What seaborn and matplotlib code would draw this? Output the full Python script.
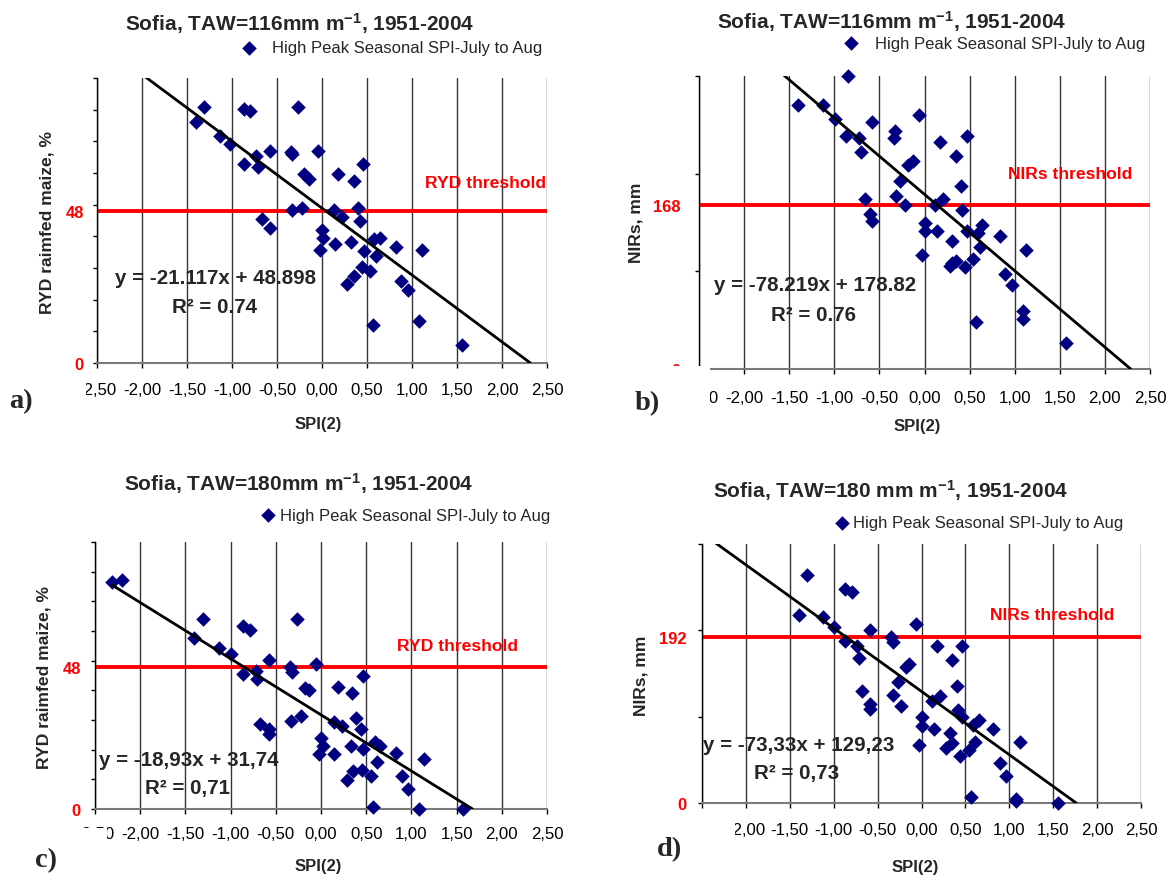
import matplotlib
matplotlib.use('Agg')
import matplotlib.pyplot as plt
import seaborn as sns
import numpy as np
from matplotlib.patches import Rectangle

# ---------------- data ----------------
legend_label = "High Peak Seasonal SPI-July to Aug"
x_tick_values = [-2.5, -2.0, -1.5, -1.0, -0.5, 0.0, 0.5, 1.0, 1.5, 2.0, 2.5]
x_tick_labels = ["-2,50", "-2,00", "-1,50", "-1,00", "-0,50", "0,00",
                 "0,50", "1,00", "1,50", "2,00", "2,50"]

a_x = [-1.40, -1.31, -1.13, -1.02, -0.87, -0.80, -0.87, -0.73, -0.71, -0.58, -0.67, -0.58,
       -0.34, -0.33, -0.27, -0.33, -0.22, -0.05, -0.20, -0.14, 0.00, 0.01, -0.02, 0.13,
       0.18, 0.22, 0.14, 0.35, 0.40, 0.42, 0.45, 0.32, 0.47, 0.28, 0.35, 0.44, 0.53, 0.58,
       0.64, 0.60, 0.82, 1.11, 0.88, 0.96, 0.57, 1.08, 1.56]
a_y = [76.0, 80.9, 71.6, 69.2, 80.1, 79.5, 63.0, 65.5, 62.0, 66.9, 45.6, 42.5,
       66.6, 66.0, 80.9, 48.4, 48.8, 66.9, 59.6, 58.0, 42.1, 39.6, 35.7, 48.4,
       59.6, 46.0, 37.7, 57.5, 48.8, 45.0, 63.0, 38.2, 35.3, 25.1, 27.6, 30.4, 28.9, 39.2,
       39.6, 33.9, 36.7, 35.7, 26.0, 23.2, 12.1, 13.4, 5.6]

b_x = [-1.40, -1.12, -0.99, -0.85, -0.87, -0.73, -0.70, -0.58, -0.66, -0.60, -0.58, -0.33,
       -0.34, -0.32, -0.27, -0.22, -0.18, -0.13, -0.06, 0.00, 0.00, -0.03, 0.12, 0.14,
       0.17, 0.21, 0.31, 0.35, 0.40, 0.42, 0.47, 0.47, 0.28, 0.31, 0.35, 0.45, 0.54, 0.59,
       0.64, 0.62, 0.84, 1.12, 0.89, 0.97, 0.57, 1.09, 1.09, 1.57]
b_y = [270.2, 270.2, 255.8, 299.5, 238.2, 236.5, 222.4, 252.7, 174.2, 158.7, 151.8, 243.4,
       236.8, 177.6, 192.1, 168.0, 208.6, 212.7, 259.6, 149.1, 140.8, 116.7, 168.0, 140.8,
       232.0, 174.2, 131.5, 217.9, 187.3, 163.2, 238.2, 140.8, 105.3, 108.8, 110.5, 104.0,
       112.2, 139.1, 147.3, 124.6, 136.0, 121.5, 97.4, 86.4, 47.8, 59.6, 50.9, 26.9]

c_x = [-2.31, -2.20, -1.31, -1.40, -1.13, -1.00, -0.86, -0.79, -0.86, -0.72, -0.71, -0.57,
       -0.67, -0.58, -0.58, -0.34, -0.32, -0.26, -0.33, -0.22, -0.05, -0.18, -0.13, 0.00,
       0.02, -0.02, 0.14, 0.23, 0.19, 0.14, 0.34, 0.39, 0.44, 0.47, 0.33, 0.47, 0.29, 0.35,
       0.45, 0.55, 0.60, 0.65, 0.62, 0.83, 1.14, 0.90, 0.96, 0.57, 1.08, 1.57]
c_y = [76.6, 77.1, 63.9, 57.5, 54.4, 52.3, 61.8, 60.2, 45.4, 46.5, 43.7, 50.1,
       28.6, 27.1, 25.2, 48.0, 46.3, 63.9, 29.5, 31.2, 49.0, 40.7, 40.2, 23.8,
       21.2, 18.6, 29.4, 28.0, 41.2, 18.6, 39.0, 30.6, 26.9, 44.8, 21.2, 20.1, 9.9, 12.8,
       13.0, 11.1, 22.7, 21.2, 15.8, 19.0, 16.9, 11.1, 6.9, 0.6, 0.0, 0.0]

d_x = [-1.40, -1.30, -1.12, -1.00, -0.87, -0.79, -0.87, -0.74, -0.71, -0.59, -0.68, -0.59,
       -0.59, -0.35, -0.33, -0.32, -0.27, -0.23, -0.18, -0.14, -0.06, 0.00, 0.00, -0.03,
       0.12, 0.14, 0.18, 0.21, 0.32, 0.35, 0.40, 0.42, 0.46, 0.46, 0.28, 0.35, 0.44, 0.54,
       0.61, 0.59, 0.65, 0.82, 1.12, 0.89, 0.96, 0.56, 1.08, 1.08, 1.55]
d_y = [218.1, 264.1, 215.4, 204.3, 248.0, 244.5, 187.8, 181.3, 167.5, 200.5, 129.9, 114.2,
       109.2, 192.4, 186.3, 125.3, 140.7, 112.7, 157.1, 160.6, 207.7, 99.3, 89.7, 67.1,
       118.1, 86.2, 181.3, 123.4, 80.9, 165.2, 135.7, 107.7, 181.3, 99.7, 63.2, 69.4, 54.4,
       61.3, 70.9, 90.8, 96.6, 86.2, 70.9, 46.0, 31.8, 6.9, 5.0, 1.9, 0.0]

titles = [r"Sofia, TAW=116mm m$^{-1}$, 1951-2004",
          r"Sofia, TAW=116mm m$^{-1}$, 1951-2004",
          r"Sofia, TAW=180mm m$^{-1}$, 1951-2004",
          r"Sofia, TAW=180 mm m$^{-1}$, 1951-2004"]
y_labels = ["RYD raimfed maize, %", "NIRs, mm", "RYD raimfed maize, %", "NIRs, mm"]
thresholds = [48, 168, 48, 192]
threshold_labels = ["RYD threshold", "NIRs threshold", "RYD threshold", "NIRs threshold"]
y_max = [90, 300, 90, 300]
y_minor_step = [10, 100, 10, 100]
slopes = [-21.117, -78.219, -18.93, -73.33]
intercepts = [48.898, 178.82, 31.74, 129.23]
trend_x_start = [-2.5, -2.5, -2.31, -2.5]
equations = ["y = -21.117x + 48.898", "y = -78.219x + 178.82",
             "y = -18,93x + 31,74", "y = -73,33x + 129,23"]
r2_texts = ["R² = 0.74", "R² = 0.76", "R² = 0,71", "R² = 0,73"]
panel_tags = ["a)", "b)", "c)", "d)"]
xs_all = [a_x, b_x, c_x, d_x]
ys_all = [a_y, b_y, c_y, d_y]

# ---------------- layout (pixel coordinates of the 1168x878 canvas) ----------------
sns.set_theme(style='white')
plt.rcParams['font.family'] = ['Liberation Sans', 'DejaVu Sans']
plt.rcParams['mathtext.fontset'] = 'custom'
plt.rcParams['mathtext.rm'] = 'Liberation Sans'
plt.rcParams['mathtext.bf'] = 'Liberation Sans:bold'
plt.rcParams['mathtext.default'] = 'bf'

W, H = 1168, 878
fig = plt.figure(figsize=(W / 100, H / 100), dpi=100)
fig.patch.set_facecolor('white')


def fx(x):
    return x / W


def fy(y):
    return 1 - y / H


layout = [
    dict(box=(97, 79, 547, 364), xpad=10.0, ypad=6.5,
         title=(300, 31), leg=(243, 53, 1.0), thr=(425, 188), eq=(115, 284), r2=(172, 313),
         tag=(9, 408), xl=(318, 429), yl=(47, 222), cover=(60, 378, 86, 402)),
    dict(box=(699, 77, 1150, 370), xpad=11.5, ypad=10.0,
         title=(892, 29), leg=(845, 48, 1.07), thr=(1008, 179), eq=(714, 291), r2=(771, 321),
         tag=(635, 410), xl=(917, 431), yl=(636, 223), cover=(665, 367, 710, 412)),
    dict(box=(95, 543, 547, 810), xpad=9.0, ypad=7.2,
         title=(299, 491), leg=(262, 520, 0.33), thr=(397, 651), eq=(99, 766), r2=(145, 794),
         tag=(35, 867), xl=(318, 871), yl=(44, 678), cover=(60, 829, 107, 846)),
    dict(box=(702, 545, 1141, 804), xpad=10.3, ypad=8.0,
         title=(891, 498), leg=(836, 528, 0.28), thr=(990, 620), eq=(703, 751), r2=(754, 779),
         tag=(657, 856), xl=(915, 872), yl=(641, 676), cover=(672, 815, 735, 842)),
]

for i in range(4):
    L = layout[i]
    x0, y0, x1, y1 = L['box']
    ax = fig.add_axes([fx(x0), fy(y1), (x1 - x0) / W, (y1 - y0) / H])
    ax.set_facecolor('white')
    ax.set_xlim(-2.5, 2.5)
    ax.set_ylim(0, y_max[i])

    ax.set_xticks(x_tick_values)
    ax.set_xticklabels(x_tick_labels)
    ax.grid(axis='x', which='major', color='#333333', lw=1.0)
    ax.grid(axis='y', visible=False)
    ax.set_axisbelow(True)
    for s in ['top', 'right']:
        ax.spines[s].set_visible(False)
    ax.spines['left'].set_color('black')
    ax.spines['left'].set_linewidth(1.0)
    ax.spines['bottom'].set_color('#7a7a7a')
    ax.spines['bottom'].set_linewidth(1.5)
    ax.tick_params(axis='x', which='major', bottom=True, direction='out', length=3.5,
                   width=1.0, color='black', labelsize=12.1, labelcolor='black', pad=L['xpad'])

    ax.set_yticks([0, thresholds[i]])
    ax.set_yticklabels(['0', str(thresholds[i])])
    ax.set_yticks(np.arange(y_minor_step[i], y_max[i] + 1, y_minor_step[i]), minor=True)
    ax.tick_params(axis='y', which='both', left=True, direction='out', length=3,
                   width=1.0, color='black', pad=L['ypad'])
    ax.tick_params(axis='y', which='major', labelsize=11.9, labelcolor='#FF0000')
    for lbl in ax.get_yticklabels():
        lbl.set_fontweight('bold')
    ax.yaxis.get_major_ticks()[1].tick1line.set_visible(False)

    ax.axhline(thresholds[i], color='#FF0000', lw=2.8, zorder=2)

    sns.scatterplot(x=xs_all[i], y=ys_all[i], ax=ax, marker='D', s=55, color='#000080',
                    edgecolor='#000080', linewidth=0, zorder=3, clip_on=False,
                    label=legend_label)

    tx = np.array([trend_x_start[i], -intercepts[i] / slopes[i]])
    ax.plot(tx, slopes[i] * tx + intercepts[i], color='black', lw=2.0, zorder=4)

    lx, lby, htp = L['leg']
    ax.legend(loc='lower left', bbox_to_anchor=(fx(lx), fy(lby + 3.5)),
              bbox_transform=fig.transFigure, frameon=False, borderpad=0, borderaxespad=0,
              handlelength=0.75, handletextpad=htp, fontsize=12.0)

    fig.text(fx(L['title'][0]), fy(L['title'][1]), titles[i], ha='center', va='baseline',
             fontsize=15.0, fontweight='bold')
    fig.text(fx(L['thr'][0]), fy(L['thr'][1]), threshold_labels[i], ha='left', va='baseline',
             fontsize=12.6, fontweight='bold', color='#FF0000')
    fig.text(fx(L['eq'][0]), fy(L['eq'][1]), equations[i], ha='left', va='baseline',
             fontsize=14.8, fontweight='bold')
    fig.text(fx(L['r2'][0]), fy(L['r2'][1]), r2_texts[i], ha='left', va='baseline',
             fontsize=14.8, fontweight='bold')
    fig.text(fx(L['xl'][0]), fy(L['xl'][1]), "SPI(2)", ha='center', va='baseline',
             fontsize=12.0, fontweight='bold')
    fig.text(fx(L['yl'][0]), fy(L['yl'][1]), y_labels[i], ha='center', va='center',
             rotation=90, fontsize=12.6, fontweight='bold')

    cx0, cy0, cx1, cy1 = L['cover']
    fig.patches.append(Rectangle((fx(cx0), fy(cy1)), (cx1 - cx0) / W, (cy1 - cy0) / H,
                                 transform=fig.transFigure, facecolor='white',
                                 edgecolor='none', zorder=10))
    fig.text(fx(L['tag'][0]), fy(L['tag'][1]), panel_tags[i], ha='left', va='baseline',
             fontsize=20.5, fontweight='bold', family=['Liberation Serif', 'DejaVu Serif'],
             zorder=11)

fig.savefig('out.png', dpi=100, facecolor='white')
